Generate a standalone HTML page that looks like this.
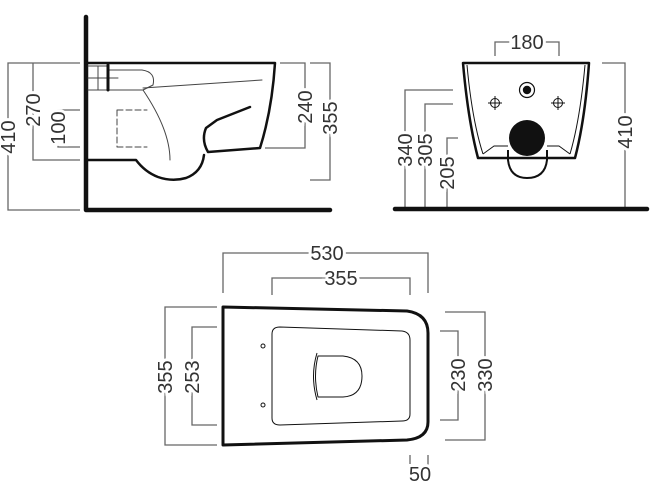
<!DOCTYPE html>
<html><head><meta charset="utf-8"><style>
html,body{margin:0;padding:0;background:#fff;}
svg{display:block;}
text{font-family:"Liberation Sans",sans-serif;font-size:20px;fill:#333;stroke:#fff;stroke-width:6px;paint-order:stroke;text-anchor:middle;}
</style></head><body>
<svg width="650" height="500" viewBox="0 0 650 500" xmlns="http://www.w3.org/2000/svg">
<g fill="none" stroke="#666" stroke-width="1.3">
<path d="M80 63H8V210H80"/>
<path d="M80 160H33V63"/>
<path d="M80 110H58V147H80"/>
<path d="M280 63H305V148H265"/>
<path d="M310 63H330V180H310"/>
<path d="M495 56V42H559V56"/>
<path d="M602 63H625V209"/>
<path d="M453 90H405V209"/>
<path d="M453 104H425V209"/>
<path d="M458 138H447V209"/>
<path d="M223 293V253H428V293"/>
<path d="M272 295V278H410V295"/>
<path d="M217 307H165V445H217"/>
<path d="M217 327H192V425H217"/>
<path d="M440 331H458V420H440"/>
<path d="M445 312H485V440H445"/>
<path d="M410 455V467M428 455V467"/>
</g>
<g stroke="#111" fill="none" stroke-linecap="round" stroke-linejoin="round">
<path d="M86 17V210H330" stroke-width="4.5"/>
<path d="M86 63H275Q272 110 260 148L208 152Q201 140 206 128L217 120L250 107" stroke-width="2.5"/>
<path d="M86 160H136Q145 172 158 177Q172 182 186 178Q202 172 204 155" stroke-width="2.5"/>
<g stroke-width="1" stroke="#444">
<path d="M88 66H108V90H88M108 70H142Q156 72 153 85L143 90H108M98 66V90M88 78H118"/>
<path d="M143 90Q170 130 170 160M143 88L262 80"/>
<path d="M117 110V147M117 110H147M117 147H147" stroke-dasharray="6 3"/>
</g>
<path d="M108 65V90" stroke-width="3"/>
</g>
<g stroke="#111" fill="none" stroke-linejoin="round">
<path d="M395 209H647" stroke-width="4.5" stroke-linecap="round"/>
<path d="M463 63H589Q585 120 575 158H478Q468 120 463 63Z" stroke-width="2.5"/>
<path d="M467 65Q472 120 483 154M585 65Q580 120 570 154" stroke-width="1"/>
<path d="M483 154L494 146H508M570 154L559 146H547" stroke-width="1"/>
<path d="M508 150V160Q510 178 527 178Q545 178 547 160V150" stroke-width="2"/>
<circle cx="527" cy="90" r="7.5" stroke-width="1.2"/>
<circle cx="527" cy="90" r="4.2" fill="#111" stroke="none"/>
<circle cx="527" cy="138" r="18" fill="#111" stroke="none"/>
<g stroke-width="1"><circle cx="495" cy="103" r="4.5"/><path d="M488 103H502M495 96V110"/>
<circle cx="558" cy="103" r="4.5"/><path d="M551 103H565M558 96V110"/></g>
</g>
<g stroke="#111" fill="none" stroke-linejoin="round">
<path d="M223 307L407 311Q428 314 428 333V422Q428 438 407 440L223 445Z" stroke-width="3"/>
<path d="M280 327L402 331Q410 332 410 340V414Q410 421 402 421L280 425Q272 425 272 418V334Q272 327 280 327Z" stroke-width="1"/>
<path d="M318 356H343Q362 358 362 376Q362 396 343 397H318Q313 376 318 356Z" stroke-width="1"/>
<path d="M317 353Q310 376 317 400" stroke-width="1"/>
<circle cx="263" cy="346" r="2" stroke-width="1"/>
<circle cx="263" cy="405" r="2" stroke-width="1"/>
</g>
<text transform="translate(15,137) rotate(-90)">410</text>
<text transform="translate(40,110) rotate(-90)">270</text>
<text transform="translate(65,128) rotate(-90)">100</text>
<text transform="translate(312,107) rotate(-90)">240</text>
<text transform="translate(337,118) rotate(-90)">355</text>
<text x="527" y="49">180</text>
<text transform="translate(632,132) rotate(-90)">410</text>
<text transform="translate(412,150) rotate(-90)">340</text>
<text transform="translate(432,150) rotate(-90)">305</text>
<text transform="translate(454,173) rotate(-90)">205</text>
<text x="327" y="260">530</text>
<text x="341" y="285">355</text>
<text transform="translate(172,377) rotate(-90)">355</text>
<text transform="translate(199,377) rotate(-90)">253</text>
<text transform="translate(465,375) rotate(-90)">230</text>
<text transform="translate(492,375) rotate(-90)">330</text>
<text x="420" y="481">50</text>
</svg>
</body></html>
